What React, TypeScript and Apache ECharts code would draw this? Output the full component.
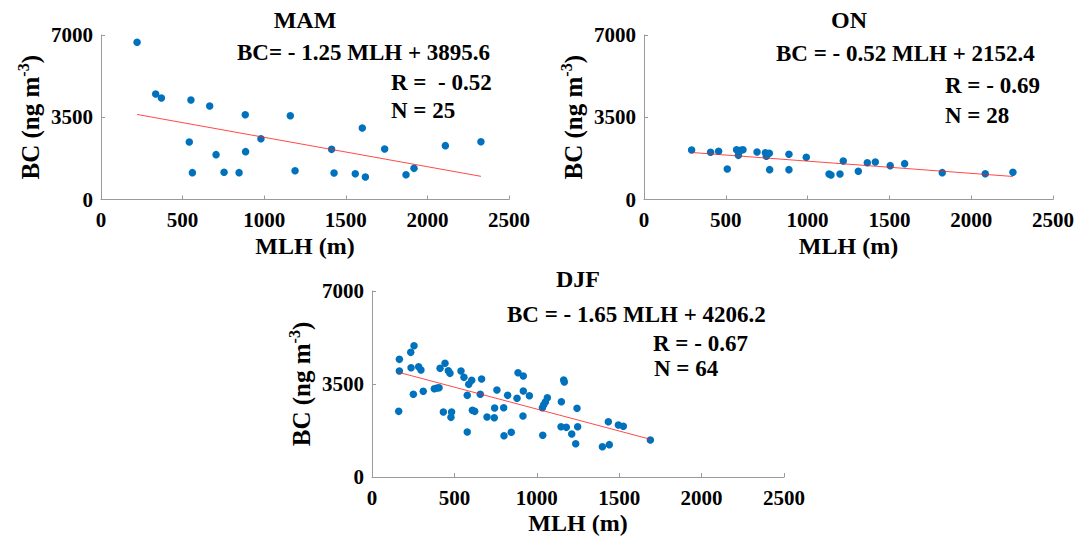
import React, { useEffect, useRef } from "react";
import * as echarts from "echarts";

const mamMLH = [221, 335, 370, 551, 666, 884, 1160, 541, 980, 1601, 705, 886, 1413, 1738, 2110, 2328, 560, 754, 846, 1189, 1428, 1558, 1620, 1869, 1918];
const mamBC = [6689, 4489, 4319, 4234, 3978, 3610, 3567, 2447, 2588, 3042, 1908, 2036, 2134, 2149, 2291, 2460, 1142, 1156, 1142, 1227, 1128, 1099, 957, 1056, 1326];

const onMLH = [291, 407, 456, 509, 566, 577, 591, 605, 691, 742, 748, 766, 768, 886, 886, 992, 1131, 1143, 1198, 1218, 1310, 1365, 1414, 1505, 1593, 1823, 2086, 2255];
const onBC = [2106, 2008, 2050, 1298, 2120, 1879, 2092, 2120, 2021, 1993, 1837, 1964, 1270, 1922, 1270, 1795, 1085, 1042, 1085, 1638, 1199, 1567, 1596, 1440, 1525, 1142, 1099, 1156];

const djfMLH = [166, 166, 162, 235, 255, 237, 283, 297, 251, 311, 378, 407, 413, 443, 463, 473, 433, 483, 479, 540, 558, 587, 578, 605, 609, 623, 578, 665, 657, 698, 742, 744, 758, 799, 801, 823, 845, 880, 886, 918, 918, 916, 955, 1036, 1034, 1042, 1052, 1064, 1149, 1163, 1167, 1147, 1179, 1212, 1236, 1244, 1248, 1398, 1440, 1434, 1495, 1525, 1689, 395];
const djfBC = [4428, 3989, 2471, 4691, 4942, 4114, 4152, 4026, 3111, 3224, 3324, 3362, 4089, 4277, 4001, 3901, 2446, 2446, 2245, 3989, 3750, 3487, 3073, 3637, 2509, 2471, 1693, 3688, 3111, 2258, 2233, 2596, 3274, 2609, 1555, 3073, 1681, 2960, 3926, 3801, 3236, 2295, 3060, 1568, 2609, 2722, 2822, 2985, 2835, 3650, 3575, 1894, 1869, 1618, 1254, 2584, 1894, 1141, 1217, 2082, 1957, 1907, 1392, 3350];

const seasons = ["MAM", "ON", "DJF"];
const slopes = [-1.25, -0.52, -1.65];
const intercepts = [3895.6, 2152.4, 4206.2];
const eqTexts = ["BC= - 1.25 MLH + 3895.6", "BC = - 0.52 MLH + 2152.4", "BC = - 1.65 MLH + 4206.2"];
const rTexts = ["R =  - 0.52", "R = - 0.69", "R = - 0.67"];
const nTexts = ["N = 25", "N = 28", "N = 64"];
const xTicks = [0, 2500, 500];
const yTicks = [0, 7000, 3500];

const FONT = "Liberation Serif";

export default function App() {
  const ref = useRef<HTMLDivElement>(null);
  useEffect(() => {
    if (!ref.current) return;
    const chart = echarts.init(ref.current, null, { renderer: "svg" });
    const xs = [mamMLH, onMLH, djfMLH];
    const ys = [mamBC, onBC, djfBC];
    const grids = [
      { left: 101, top: 35, width: 408, height: 164.5 },
      { left: 644, top: 35, width: 409, height: 164.5 },
      { left: 372, top: 291, width: 412, height: 186 },
    ];
    const titlePos = [
      [305, 20],
      [849, 20],
      [578, 279],
    ];
    const eqPos = [
      [[237, 52], [391, 82], [391, 110]],
      [[776, 53], [945, 85], [945, 115]],
      [[507, 314], [653, 343], [654, 368]],
    ];
    const axisLine = { lineStyle: { color: "#9a9a9a", width: 1 } };
    const fmt = (v: number) => String(v);
    const xAxis = grids.map((_, i) => ({
      type: "value",
      gridIndex: i,
      min: xTicks[0],
      max: xTicks[1],
      interval: xTicks[2],
      axisLine: { show: true, ...axisLine },
      axisTick: { show: true, inside: true, length: 4, lineStyle: { color: "#9a9a9a" } },
      splitLine: { show: false },
      axisLabel: { color: "#000", fontFamily: FONT, fontWeight: "bold", fontSize: 21, margin: 10, formatter: fmt },
      name: "MLH (m)",
      nameLocation: "middle",
      nameGap: 34,
      nameTextStyle: { color: "#000", fontFamily: FONT, fontWeight: "bold", fontSize: 24 },
    }));
    const yAxis = grids.map((_, i) => ({
      type: "value",
      gridIndex: i,
      min: yTicks[0],
      max: yTicks[1],
      interval: yTicks[2],
      axisLine: { show: true, ...axisLine },
      axisTick: { show: true, inside: true, length: 4, lineStyle: { color: "#9a9a9a" } },
      splitLine: { show: false },
      axisLabel: { color: "#000", fontFamily: FONT, fontWeight: "bold", fontSize: 21, margin: 8, formatter: fmt },
      name: "{a|BC (ng m}{s|-3}{a|)}",
      nameLocation: "middle",
      nameRotate: 90,
      nameGap: 56,
      nameTextStyle: {
        color: "#000",
        rich: {
          a: { fontFamily: FONT, fontWeight: "bold", fontSize: 25, lineHeight: 30, color: "#000" },
          s: { fontFamily: FONT, fontWeight: "bold", fontSize: 16, lineHeight: 16, verticalAlign: "top", color: "#000" },
        },
      },
    }));
    const series: any[] = [];
    xs.forEach((xv, i) => {
      series.push({
        type: "scatter",
        xAxisIndex: i,
        yAxisIndex: i,
        symbolSize: 7.5,
        itemStyle: { color: "#0072BD", opacity: 1 },
        data: xv.map((x, k) => [x, ys[i][k]]),
        z: 3,
      });
      const x0 = Math.min(...xv);
      const x1 = Math.max(...xv);
      series.push({
        type: "line",
        xAxisIndex: i,
        yAxisIndex: i,
        showSymbol: false,
        symbol: "none",
        lineStyle: { color: "#ff1a1a", width: 0.8 },
        data: [
          [x0, slopes[i] * x0 + intercepts[i]],
          [x1, slopes[i] * x1 + intercepts[i]],
        ],
        z: 4,
      });
    });
    const graphic: any[] = [];
    seasons.forEach((s, i) => {
      graphic.push({
        type: "text",
        x: titlePos[i][0],
        y: titlePos[i][1],
        style: { text: s, fontFamily: FONT, fontWeight: "bold", fontSize: 24, fill: "#000", align: "center", verticalAlign: "middle" },
      });
      const texts = [eqTexts[i], rTexts[i], nTexts[i]];
      texts.forEach((t, k) => {
        graphic.push({
          type: "text",
          x: eqPos[i][k][0],
          y: eqPos[i][k][1],
          style: { text: t, fontFamily: FONT, fontWeight: "bold", fontSize: 23, fill: "#000", align: "left", verticalAlign: "middle" },
        });
      });
    });
    chart.setOption({
      animation: false,
      backgroundColor: "#fff",
      grid: grids.map((g) => ({ ...g, containLabel: false })),
      xAxis,
      yAxis,
      series,
      graphic,
    });
    return () => chart.dispose();
  }, []);
  return <div ref={ref} style={{ position: "fixed", left: 0, top: 0, width: 1083, height: 538 }} />;
}
